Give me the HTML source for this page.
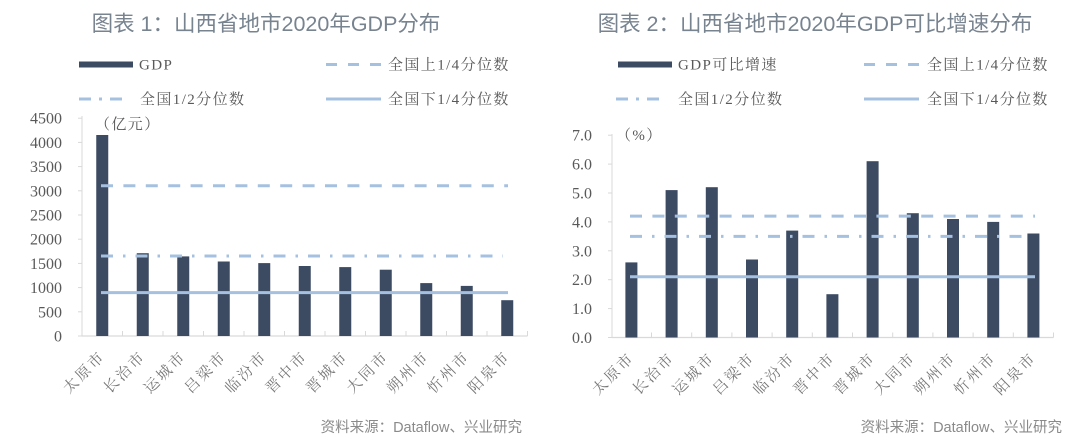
<!DOCTYPE html>
<html><head><meta charset="utf-8"><style>
html,body{margin:0;padding:0;background:#fff;}
svg{display:block;}
.t{font-family:"Liberation Sans","Noto Sans CJK SC",sans-serif;font-size:21.5px;fill:#77838f;}
.lg{font-family:"Liberation Serif","Noto Serif CJK SC",serif;font-size:15px;fill:#595959;letter-spacing:1.4px;}
.yl{font-family:"Liberation Serif","Noto Serif CJK SC",serif;font-size:16px;fill:#595959;}
.xl{font-family:"Liberation Serif","Noto Serif CJK SC",serif;font-size:15px;fill:#777;letter-spacing:2.5px;}
.src{font-family:"Liberation Sans","Noto Sans CJK SC",sans-serif;font-size:14.5px;fill:#8a8a8a;}
</style></head><body>
<svg width="1080" height="443" viewBox="0 0 1080 443" xmlns="http://www.w3.org/2000/svg">
<rect width="1080" height="443" fill="#fff"/>

<!-- ================= Chart 1 ================= -->
<text class="t" x="266" y="31" text-anchor="middle">图表 1：山西省地市2020年GDP分布</text>

<rect x="79" y="61.5" width="54" height="6" fill="#3c4a62"/>
<text class="lg" x="139" y="69.5">GDP</text>
<line x1="326" y1="64.5" x2="381" y2="64.5" stroke="#a6c1df" stroke-width="3" stroke-dasharray="11 11"/>
<text class="lg" x="388" y="69.5">全国上1/4分位数</text>
<line x1="79" y1="99" x2="122" y2="99" stroke="#a6c1df" stroke-width="3" stroke-dasharray="12 8 3 8"/>
<text class="lg" x="140" y="104">全国1/2分位数</text>
<line x1="326" y1="99" x2="381" y2="99" stroke="#a6c1df" stroke-width="3"/>
<text class="lg" x="388" y="104">全国下1/4分位数</text>

<line x1="82" y1="116" x2="82" y2="336" stroke="#d9d9d9" stroke-width="1"/>
<line x1="82" y1="336" x2="527.5" y2="336" stroke="#d9d9d9" stroke-width="1.2"/>
<g stroke="#d9d9d9" stroke-width="1">
<line x1="78" y1="336" x2="82" y2="336"/><line x1="78" y1="311.8" x2="82" y2="311.8"/>
<line x1="78" y1="287.6" x2="82" y2="287.6"/><line x1="78" y1="263.4" x2="82" y2="263.4"/>
<line x1="78" y1="239.2" x2="82" y2="239.2"/><line x1="78" y1="215" x2="82" y2="215"/>
<line x1="78" y1="190.8" x2="82" y2="190.8"/><line x1="78" y1="166.6" x2="82" y2="166.6"/>
<line x1="78" y1="142.4" x2="82" y2="142.4"/><line x1="78" y1="118.2" x2="82" y2="118.2"/>
<line x1="122.5" y1="331" x2="122.5" y2="336"/><line x1="163" y1="331" x2="163" y2="336"/>
<line x1="203.5" y1="331" x2="203.5" y2="336"/><line x1="244" y1="331" x2="244" y2="336"/>
<line x1="284.5" y1="331" x2="284.5" y2="336"/><line x1="325" y1="331" x2="325" y2="336"/>
<line x1="365.5" y1="331" x2="365.5" y2="336"/><line x1="406" y1="331" x2="406" y2="336"/>
<line x1="446.5" y1="331" x2="446.5" y2="336"/><line x1="487" y1="331" x2="487" y2="336"/>
<line x1="527.5" y1="331" x2="527.5" y2="336"/>
</g>
<g class="yl" text-anchor="end">
<text x="62" y="341.5">0</text><text x="62" y="317.3">500</text>
<text x="62" y="293.1">1000</text><text x="62" y="268.9">1500</text>
<text x="62" y="244.7">2000</text><text x="62" y="220.5">2500</text>
<text x="62" y="196.3">3000</text><text x="62" y="172.1">3500</text>
<text x="62" y="147.9">4000</text><text x="62" y="123.7">4500</text>
</g>
<text class="lg" x="95" y="129">（亿元）</text>

<g fill="#3c4a62">
<rect x="96.25" y="135" width="12" height="201"/>
<rect x="136.75" y="253.2" width="12" height="82.8"/>
<rect x="177.25" y="256.4" width="12" height="79.6"/>
<rect x="217.75" y="261.5" width="12" height="74.5"/>
<rect x="258.25" y="263.1" width="12" height="72.9"/>
<rect x="298.75" y="266" width="12" height="70"/>
<rect x="339.25" y="267.1" width="12" height="68.9"/>
<rect x="379.75" y="269.7" width="12" height="66.3"/>
<rect x="420.25" y="283.1" width="12" height="52.9"/>
<rect x="460.75" y="285.9" width="12" height="50.1"/>
<rect x="501.25" y="300.2" width="12" height="35.8"/>
</g>
<line x1="101" y1="185.7" x2="508" y2="185.7" stroke="#a6c1df" stroke-width="3" stroke-dasharray="12 10.4"/>
<line x1="101" y1="256" x2="503" y2="256" stroke="#a6c1df" stroke-width="3" stroke-dasharray="12 10 2.5 10"/>
<line x1="101" y1="292.6" x2="508" y2="292.6" stroke="#a6c1df" stroke-width="3"/>

<g class="xl" text-anchor="end">
<text transform="translate(106.25,357) rotate(-45)">太原市</text>
<text transform="translate(146.75,357) rotate(-45)">长治市</text>
<text transform="translate(187.25,357) rotate(-45)">运城市</text>
<text transform="translate(227.75,357) rotate(-45)">吕梁市</text>
<text transform="translate(268.25,357) rotate(-45)">临汾市</text>
<text transform="translate(308.75,357) rotate(-45)">晋中市</text>
<text transform="translate(349.25,357) rotate(-45)">晋城市</text>
<text transform="translate(389.75,357) rotate(-45)">大同市</text>
<text transform="translate(430.25,357) rotate(-45)">朔州市</text>
<text transform="translate(470.75,357) rotate(-45)">忻州市</text>
<text transform="translate(511.25,357) rotate(-45)">阳泉市</text>
</g>
<text class="src" x="522" y="432" text-anchor="end">资料来源：Dataflow、兴业研究</text>

<!-- ================= Chart 2 ================= -->
<text class="t" x="815" y="31" text-anchor="middle">图表 2：山西省地市2020年GDP可比增速分布</text>

<rect x="618" y="61.5" width="54" height="6" fill="#3c4a62"/>
<text class="lg" x="678" y="69.5">GDP可比增速</text>
<line x1="864" y1="64.5" x2="919" y2="64.5" stroke="#a6c1df" stroke-width="3" stroke-dasharray="11 11"/>
<text class="lg" x="927" y="69.5">全国上1/4分位数</text>
<line x1="616" y1="99" x2="662" y2="99" stroke="#a6c1df" stroke-width="3" stroke-dasharray="12 8 3 8"/>
<text class="lg" x="678" y="104">全国1/2分位数</text>
<line x1="864" y1="99" x2="919" y2="99" stroke="#a6c1df" stroke-width="3"/>
<text class="lg" x="927" y="104">全国下1/4分位数</text>

<line x1="612" y1="134" x2="612" y2="337.5" stroke="#d9d9d9" stroke-width="1"/>
<line x1="612" y1="337.5" x2="1053.5" y2="337.5" stroke="#d9d9d9" stroke-width="1.2"/>
<g stroke="#d9d9d9" stroke-width="1">
<line x1="608" y1="337.5" x2="612" y2="337.5"/><line x1="608" y1="308.6" x2="612" y2="308.6"/>
<line x1="608" y1="279.7" x2="612" y2="279.7"/><line x1="608" y1="250.8" x2="612" y2="250.8"/>
<line x1="608" y1="221.9" x2="612" y2="221.9"/><line x1="608" y1="193" x2="612" y2="193"/>
<line x1="608" y1="164.1" x2="612" y2="164.1"/><line x1="608" y1="135.2" x2="612" y2="135.2"/>
<line x1="651.5" y1="332.5" x2="651.5" y2="337.5"/><line x1="691.7" y1="332.5" x2="691.7" y2="337.5"/>
<line x1="731.9" y1="332.5" x2="731.9" y2="337.5"/><line x1="772.1" y1="332.5" x2="772.1" y2="337.5"/>
<line x1="812.3" y1="332.5" x2="812.3" y2="337.5"/><line x1="852.5" y1="332.5" x2="852.5" y2="337.5"/>
<line x1="892.7" y1="332.5" x2="892.7" y2="337.5"/><line x1="932.9" y1="332.5" x2="932.9" y2="337.5"/>
<line x1="973.1" y1="332.5" x2="973.1" y2="337.5"/><line x1="1013.3" y1="332.5" x2="1013.3" y2="337.5"/>
<line x1="1053.5" y1="332.5" x2="1053.5" y2="337.5"/>
</g>
<g class="yl" text-anchor="end">
<text x="592" y="343">0.0</text><text x="592" y="314.1">1.0</text>
<text x="592" y="285.2">2.0</text><text x="592" y="256.3">3.0</text>
<text x="592" y="227.4">4.0</text><text x="592" y="198.5">5.0</text>
<text x="592" y="169.6">6.0</text><text x="592" y="140.7">7.0</text>
</g>
<text class="lg" x="616" y="140">（%）</text>

<g fill="#3c4a62">
<rect x="625.4" y="262.4" width="12" height="75.1"/>
<rect x="665.6" y="190.1" width="12" height="147.4"/>
<rect x="705.8" y="187.2" width="12" height="150.3"/>
<rect x="746" y="259.5" width="12" height="78"/>
<rect x="786.2" y="230.6" width="12" height="106.9"/>
<rect x="826.4" y="294.2" width="12" height="43.3"/>
<rect x="866.6" y="161.2" width="12" height="176.3"/>
<rect x="906.8" y="213.2" width="12" height="124.3"/>
<rect x="947" y="219" width="12" height="118.5"/>
<rect x="987.2" y="221.9" width="12" height="115.6"/>
<rect x="1027.4" y="233.5" width="12" height="104"/>
</g>
<line x1="630" y1="216.1" x2="1035" y2="216.1" stroke="#a6c1df" stroke-width="3" stroke-dasharray="12 10.4"/>
<line x1="630" y1="236.4" x2="1030" y2="236.4" stroke="#a6c1df" stroke-width="3" stroke-dasharray="12 10 2.5 10"/>
<line x1="630" y1="276.8" x2="1035" y2="276.8" stroke="#a6c1df" stroke-width="3"/>

<g class="xl" text-anchor="end">
<text transform="translate(635.4,358.5) rotate(-45)">太原市</text>
<text transform="translate(675.6,358.5) rotate(-45)">长治市</text>
<text transform="translate(715.8,358.5) rotate(-45)">运城市</text>
<text transform="translate(756,358.5) rotate(-45)">吕梁市</text>
<text transform="translate(796.2,358.5) rotate(-45)">临汾市</text>
<text transform="translate(836.4,358.5) rotate(-45)">晋中市</text>
<text transform="translate(876.6,358.5) rotate(-45)">晋城市</text>
<text transform="translate(916.8,358.5) rotate(-45)">大同市</text>
<text transform="translate(957,358.5) rotate(-45)">朔州市</text>
<text transform="translate(997.2,358.5) rotate(-45)">忻州市</text>
<text transform="translate(1037.4,358.5) rotate(-45)">阳泉市</text>
</g>
<text class="src" x="1062" y="432" text-anchor="end">资料来源：Dataflow、兴业研究</text>
</svg>
</body></html>
